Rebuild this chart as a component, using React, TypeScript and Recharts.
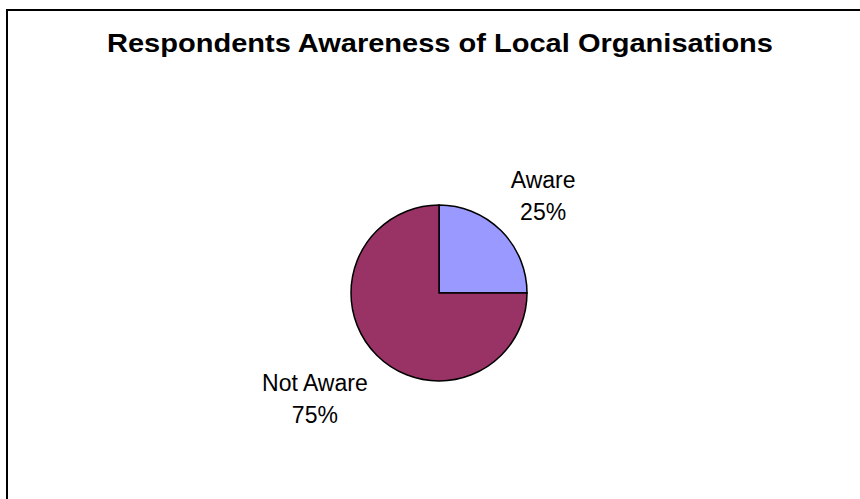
import { Cell, Pie, PieChart } from "recharts";

const categories = ["Aware", "Not Aware"];
const shares = [25, 75];
const sliceColors = ["#9999FF", "#993366"];
const chartTitle = "Respondents Awareness of Local Organisations";

const data = categories.map((name, i) => ({ name, value: shares[i] }));

const FONT = "'Liberation Sans', Arial, sans-serif";
const RADIAN = Math.PI / 180;

// label box sits outside the slice, anchored by its nearest corner (like Excel)
function renderLabel(props: any) {
  const { cx, cy, midAngle, outerRadius, name, value } = props;
  const r = outerRadius + 14;
  const cos = Math.cos(-midAngle * RADIAN);
  const sin = Math.sin(-midAngle * RADIAN);
  const px = cx + r * cos;
  const py = cy + r * sin;
  const halfW = (String(name).length * 10 + 14) / 2;
  const x = cos >= 0 ? px + halfW : px - halfW;
  const y1 = sin < 0 ? py - 33 : py + 26;
  const y2 = y1 + 32;
  return (
    <text x={x} y={y1} textAnchor="middle" fontSize={23} fontFamily={FONT} fill="#000">
      <tspan x={x} y={y1}>{name}</tspan>
      <tspan x={x} y={y2}>{`${value}%`}</tspan>
    </text>
  );
}

export default function App() {
  return (
    <div
      style={{
        position: "absolute",
        left: 0,
        top: 0,
        width: 860,
        height: 499,
        overflow: "hidden",
        background: "#fff",
      }}
    >
      <div
        style={{
          position: "absolute",
          left: 6,
          top: 9,
          width: 900,
          height: 600,
          border: "2px solid #000",
        }}
      />
      <svg width={860} height={80} style={{ position: "absolute", left: 0, top: 0 }}>
        <text
          x={440}
          y={52}
          textAnchor="middle"
          fontSize={25}
          fontWeight="bold"
          fontFamily={FONT}
          textLength={666}
          lengthAdjust="spacingAndGlyphs"
        >
          {chartTitle}
        </text>
      </svg>
      <div style={{ position: "absolute", left: 0, top: 0 }}>
        <PieChart width={860} height={499}>
          <Pie
            data={data}
            dataKey="value"
            nameKey="name"
            cx={434}
            cy={288}
            outerRadius={88}
            startAngle={90}
            endAngle={-270}
            stroke="#000"
            strokeWidth={1.5}
            label={renderLabel}
            labelLine={false}
            isAnimationActive={false}
          >
            {data.map((d, i) => (
              <Cell key={d.name} fill={sliceColors[i]} />
            ))}
          </Pie>
        </PieChart>
      </div>
    </div>
  );
}
